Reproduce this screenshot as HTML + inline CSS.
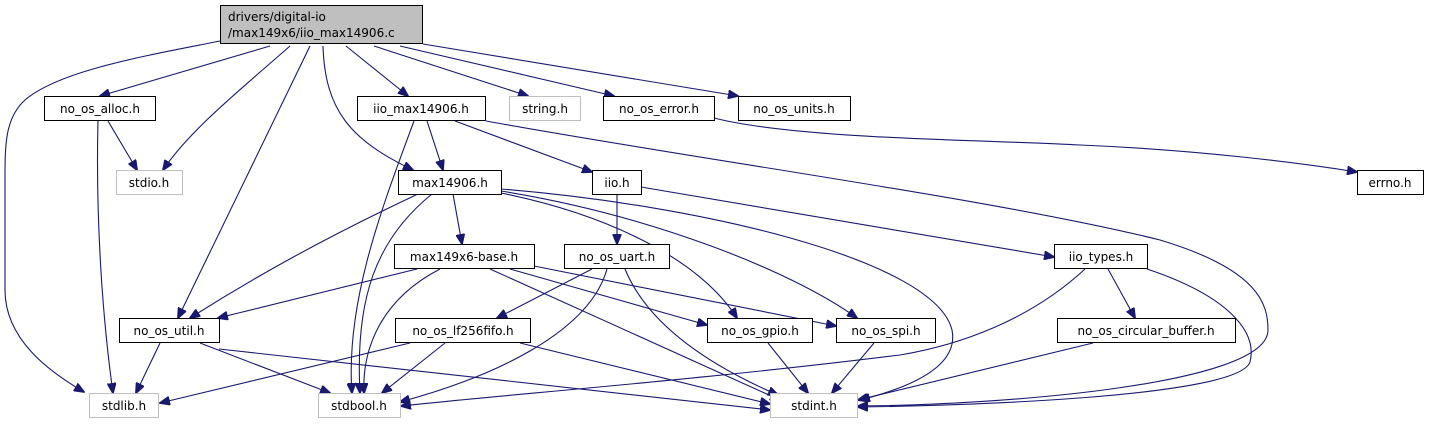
<!DOCTYPE html>
<html><head><meta charset="utf-8"><style>
html,body{margin:0;padding:0;background:#fff;}
svg{display:block;}
text{font-family:"DejaVu Sans","Liberation Sans",sans-serif;font-size:12px;fill:#000;}
.n{fill:#fff;stroke:#000;stroke-width:1;}
.g{fill:#fff;stroke:#bfbfbf;stroke-width:1;}
.e{fill:none;stroke:#191970;stroke-width:1.1;}
</style></head><body>
<svg width="1430" height="425" viewBox="0 0 1430 425" xmlns="http://www.w3.org/2000/svg">
<defs><marker id="a" markerWidth="11" markerHeight="9" refX="10" refY="4.5" orient="auto" markerUnits="userSpaceOnUse"><path d="M0,0 L11,4.5 L0,9 Z" fill="#191970" stroke="#191970"/></marker></defs>
<g marker-end="url(#a)">
<path class="e" d="M220,41 C150,55 60,70 25,100 C5,118 5,145 5,180 L5,290 C5,340 50,372 84,392"/>
<path class="e" d="M270,46 L100,96"/>
<path class="e" d="M290,46 C240,90 190,130 163,170"/>
<path class="e" d="M310,46 L178,318"/>
<path class="e" d="M323,46 C325,110 350,140 413,170"/>
<path class="e" d="M346,46 L408,96"/>
<path class="e" d="M374,46 L528,96"/>
<path class="e" d="M400,46 L614,96"/>
<path class="e" d="M423,44 L738,96"/>
<path class="e" d="M108,121 L137,170"/>
<path class="e" d="M98,121 C96,200 100,300 113,393"/>
<path class="e" d="M427,121 L443,170"/>
<path class="e" d="M414,121 C385,200 345,300 352,393"/>
<path class="e" d="M455,121 L592,172"/>
<path class="e" d="M486,121 C700,160 1000,200 1160,240 C1260,270 1268,305 1268,330 C1268,385 1000,405 858,406"/>
<path class="e" d="M714,118 C800,140 1000,140 1080,145 C1200,150 1300,163 1357,172"/>
<path class="e" d="M418,194 C320,240 250,280 190,318"/>
<path class="e" d="M432,194 C375,240 355,300 360,393"/>
<path class="e" d="M453,194 L462,244"/>
<path class="e" d="M501,189 C700,205 935,260 952,330 C960,370 900,390 860,400"/>
<path class="e" d="M501,191 C650,215 790,270 857,318"/>
<path class="e" d="M501,193 C610,215 700,260 737,318"/>
<path class="e" d="M617,194 L617,244"/>
<path class="e" d="M641,187 L1054,257"/>
<path class="e" d="M417,269 L218,318"/>
<path class="e" d="M440,269 C380,300 362,350 364,393"/>
<path class="e" d="M490,269 L780,400"/>
<path class="e" d="M510,269 L707,325"/>
<path class="e" d="M534,266 L836,326"/>
<path class="e" d="M592,269 L497,318"/>
<path class="e" d="M607,269 C590,330 500,375 400,402"/>
<path class="e" d="M625,269 C650,330 720,370 778,395"/>
<path class="e" d="M160,343 L136,393"/>
<path class="e" d="M200,343 L330,393"/>
<path class="e" d="M219,349 L770,410"/>
<path class="e" d="M410,343 L160,403"/>
<path class="e" d="M445,343 L382,393"/>
<path class="e" d="M520,343 L770,404"/>
<path class="e" d="M768,343 L808,393"/>
<path class="e" d="M874,343 L832,393"/>
<path class="e" d="M1085,269 C1030,320 960,345 900,355 C700,380 500,395 401,406"/>
<path class="e" d="M1108,269 L1135,318"/>
<path class="e" d="M1147,269 C1225,295 1258,330 1250,362 C1238,398 950,406 858,407"/>
<path class="e" d="M1093,343 L858,400"/>
</g>
<rect x="220.5" y="5.5" width="202" height="38" fill="#bfbfbf" stroke="#000"/>
<text x="228" y="21">drivers/digital-io</text>
<text x="228" y="37">/max149x6/iio_max14906.c</text>
<g text-anchor="middle">
<rect class="n" x="44.5" y="96.5" width="111" height="24"/><text x="100" y="113">no_os_alloc.h</text>
<rect class="g" x="116.5" y="170.5" width="66" height="24"/><text x="149" y="187">stdio.h</text>
<rect class="n" x="357.5" y="96.5" width="128" height="24"/><text x="421" y="113">iio_max14906.h</text>
<rect class="g" x="509.5" y="96.5" width="71" height="24"/><text x="545" y="113">string.h</text>
<rect class="n" x="603.5" y="96.5" width="111" height="24"/><text x="659" y="113">no_os_error.h</text>
<rect class="n" x="738.5" y="96.5" width="112" height="24"/><text x="794" y="113">no_os_units.h</text>
<rect class="n" x="1357.5" y="170.5" width="66" height="24"/><text x="1390" y="187">errno.h</text>
<rect class="n" x="398.5" y="170.5" width="103" height="24"/><text x="450" y="187">max14906.h</text>
<rect class="n" x="592.5" y="170.5" width="49" height="24"/><text x="617" y="187">iio.h</text>
<rect class="n" x="394.5" y="244.5" width="140" height="24"/><text x="464" y="261">max149x6-base.h</text>
<rect class="n" x="564.5" y="244.5" width="105" height="24"/><text x="617" y="261">no_os_uart.h</text>
<rect class="n" x="1054.5" y="244.5" width="93" height="24"/><text x="1101" y="261">iio_types.h</text>
<rect class="n" x="119.5" y="318.5" width="100" height="24"/><text x="169" y="335">no_os_util.h</text>
<rect class="n" x="395.5" y="318.5" width="135" height="24"/><text x="463" y="335">no_os_lf256fifo.h</text>
<rect class="n" x="707.5" y="318.5" width="105" height="24"/><text x="760" y="335">no_os_gpio.h</text>
<rect class="n" x="836.5" y="318.5" width="99" height="24"/><text x="886" y="335">no_os_spi.h</text>
<rect class="n" x="1057.5" y="318.5" width="178" height="24"/><text x="1146" y="335">no_os_circular_buffer.h</text>
<rect class="g" x="89.5" y="393.5" width="69" height="24"/><text x="124" y="410">stdlib.h</text>
<rect class="g" x="318.5" y="393.5" width="82" height="24"/><text x="359" y="410">stdbool.h</text>
<rect class="g" x="770.5" y="393.5" width="87" height="24"/><text x="814" y="410">stdint.h</text>
</g>
</svg>
</body></html>
